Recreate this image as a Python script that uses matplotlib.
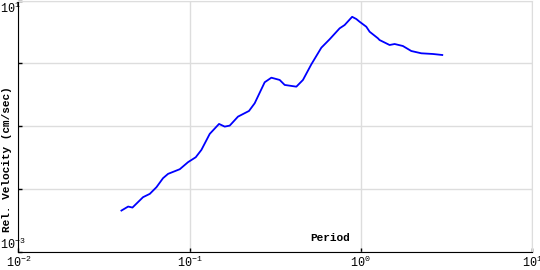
import matplotlib
matplotlib.use("Agg")
import matplotlib.pyplot as plt
from matplotlib.transforms import blended_transform_factory

# response spectrum
period = [0.0400, 0.0438, 0.0464, 0.0535, 0.0586, 0.0641, 0.0700, 0.0749,
          0.0877, 0.0980, 0.1087, 0.1173, 0.1312, 0.1487, 0.1605, 0.1717,
          0.1919, 0.2225, 0.2402, 0.2748, 0.3006, 0.3362, 0.3596, 0.4207,
          0.4598, 0.5148, 0.5888, 0.6580, 0.7531, 0.8054, 0.8910, 0.9425,
          0.9850, 1.078, 1.127, 1.260, 1.288, 1.475, 1.578, 1.763, 1.974,
          2.259, 2.640, 2.995]
velocity = [0.00455, 0.00527, 0.00508, 0.00743, 0.00839, 0.01072, 0.0149,
            0.01745, 0.0207, 0.0268, 0.0321, 0.0420, 0.0755, 0.1088, 0.0986,
            0.1023, 0.1422, 0.175, 0.232, 0.501, 0.592, 0.545, 0.454, 0.426,
            0.545, 0.968, 1.778, 2.416, 3.614, 4.077, 5.51, 5.08, 4.60, 3.83,
            3.19, 2.51, 2.355, 1.961, 2.034, 1.891, 1.574, 1.447, 1.411, 1.36]

xticks = [1e-2, 1e-1, 1e0, 1e1]
xticklabels = ['$10^{-2}$', '$10^{-1}$', '$10^{0}$', '$10^{1}$']
yticks = [1e-3, 1e-2, 1e-1, 1e0, 1e1]
ylabeled = [1e-3, 1e1]
ylabeltext = ['$10^{-3}$', '$10^{1}$']

plt.rcParams['mathtext.fontset'] = 'custom'
plt.rcParams['mathtext.rm'] = 'Liberation Mono'
plt.rcParams['mathtext.it'] = 'Liberation Mono'
plt.rcParams['font.family'] = ['Liberation Mono', 'DejaVu Sans Mono']

grid_col = '#dddddd'

fig = plt.figure(figsize=(5.4, 2.7), dpi=100)
ax = fig.add_axes([0.034, 0.067, 0.951, 0.931])

ax.plot(period, velocity, color='#0000ff', lw=1.3)

ax.set_xscale('log')
ax.set_yscale('log')
ax.set_xlim(1e-2, 1e1)
ax.set_ylim(1e-3, 1e1)
ax.minorticks_off()
ax.set_xticks(xticks)
ax.set_xticklabels(xticklabels)
ax.set_yticks(yticks)
ax.set_yticklabels([])
ax.tick_params(direction='in', length=3, width=1, labelsize=8.5, pad=2)

# y labels only at the ends, pushed inside the figure
trans = blended_transform_factory(fig.transFigure, ax.transData)
for val, txt in zip(ylabeled, ylabeltext):
    ax.text(0.0, val, txt, transform=trans, ha='left',
            va='bottom' if val < 1 else 'top', fontsize=8.5)

ax.grid(True, color=grid_col, lw=1)
ax.spines['top'].set_color(grid_col)
ax.spines['right'].set_color(grid_col)

ax.text(0.607, 0.035, 'Period', transform=ax.transAxes, ha='center',
        va='bottom', fontsize=8, fontweight='bold')
fig.text(0.013, 0.41, 'Rel. Velocity (cm/sec)', rotation=90, ha='center',
         va='center', fontsize=8, fontweight='bold')

fig.savefig('out.png', dpi=100)
